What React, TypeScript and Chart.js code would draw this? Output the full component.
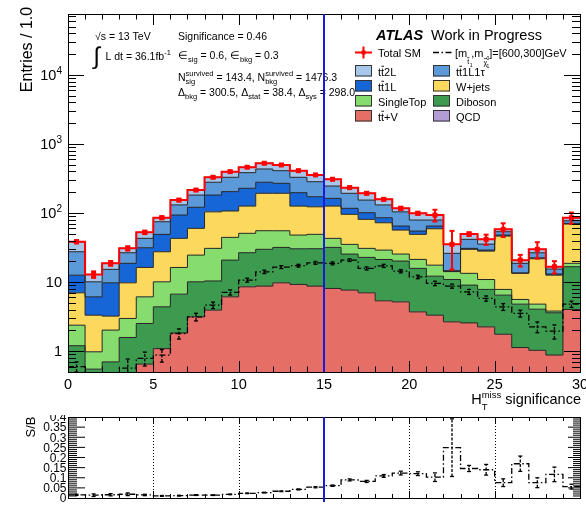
import React, { useEffect, useRef } from "react";
import { Chart, registerables } from "chart.js";

Chart.register(...registerables);

const FONT = '"Liberation Sans", Arial, Helvetica, sans-serif';
const fnt = (size: number, style = "") => `${style} ${size}px ${FONT}`.trim();

// Unit-width bins of H_T^miss significance from 0 to 30
const binEdges = [0, 1, 2, 3, 4, 5, 6, 7, 8, 9, 10, 11, 12, 13, 14, 15, 16, 17, 18, 19, 20, 21, 22, 23, 24, 25, 26, 27, 28, 29, 30];

// Background yields per bin, listed in stacking order (bottom to top)
const ttV = [0.3, 0.15, 0.25, 0.4, 0.65, 1.09, 1.84, 3.14, 3.93, 6.12, 8.55, 8.75, 9.77, 9.26, 8.75, 8.1, 7.66, 7.0, 5.36, 5.18, 3.71, 3.32, 2.66, 2.57, 2.25, 1.76, 1.13, 1.03, 0.88, 4.02];
const diboson = [0.9, 0.4, 0.45, 1.18, 1.87, 3.3, 4.86, 6.96, 6.47, 14.7, 18.1, 21.1, 22.0, 21.1, 21.7, 23.7, 17.8, 15.8, 15.9, 15.0, 12.1, 8.88, 8.24, 6.48, 5.59, 4.72, 3.67, 3.03, 2.72, 12.7];
const singleTop = [1.18, 0.43, 1.32, 1.4, 3.6, 5.71, 9.6, 14.5, 20.4, 23.6, 24.2, 25.6, 23.6, 17.6, 18.7, 11.2, 9.7, 8.0, 7.8, 5.3, 5.5, 5.4, 3.3, 4.35, 3.06, 1.36, 0.81, 0.74, 0.21, 2.0];
const wJets = [4.62, 2.34, 1.2, 6.79, 10.2, 17.4, 26.7, 35.4, 73.2, 62.6, 75.2, 137.6, 137.6, 78, 73.9, 83, 60.6, 50.2, 43.2, 31.2, 27.8, 41.6, 0.2, 16.4, 17.2, 38.6, 7.79, 17.0, 8.8, 50.6];
const tt1L = [5.6, 2.8, 6.55, 8.93, 15.1, 21.6, 50.5, 61, 78, 97, 102, 86, 76, 71, 49, 37, 21.2, 20, 13.2, 8.1, 5.7, 5.6, 0.2, 1.0, 1.0, 1.6, 0.2, 0.7, 0.5, 1.6];
const tt1L1tau = [14.9, 3.98, 5.53, 7.9, 11.6, 25.7, 37.5, 61, 97, 125, 156, 155, 141, 132, 112, 83, 76, 53, 45.5, 39.2, 24.4, 14.4, 11.5, 10.8, 6.4, 5.6, 5.1, 4.1, 2.3, 6.4];
const tt2L = [10.9, 2.8, 3.4, 4.2, 9.5, 10.7, 23, 33, 50, 68, 76, 91, 86, 81, 72, 62, 40, 39, 27, 13, 19.8, 14.3, 9.1, 8.0, 6.1, 4.4, 2.1, 3.2, 1.3, 8.2];
// Uncertainty on the total SM prediction
const totalSMErr = [2.0, 1.4, 1.5, 2.2, 3, 4, 6, 7, 9, 10, 11, 13, 13, 12, 10, 9, 8, 7, 6, 6, 5, 18, 20, 3, 7, 13, 4, 8, 3.4, 16];

// Signal point [m_stop, m_chi] = [600, 300] GeV
const signal = [0.6, 0.18, 0.3, 0.57, 0.79, 0.875, 1.8, 3.14, 4.64, 7.1, 10.7, 14.1, 16.5, 17.3, 19, 18.7, 20.8, 15.8, 17.2, 14.4, 11.9, 9.6, 8.75, 7.23, 5.8, 4.39, 3.52, 2.25, 1.95, 4.8];
const signalErr = [0.1, 0.08, 0.1, 0.2, 0.18, 0.18, 0.3, 0.4, 0.5, 0.6, 0.7, 0.8, 0.8, 0.8, 0.9, 0.9, 0.9, 0.8, 0.9, 0.8, 0.7, 0.7, 0.6, 0.6, 0.5, 0.5, 0.4, 0.4, 0.45, 0.5];

// Axis ticks
const yDecades = [1, 10, 100, 1000, 10000];
const yDecadeExp = ["", "", "2", "3", "4"];
const yDecadeBase = ["1", "10", "10", "10", "10"];
const xLabelValues = [0, 5, 10, 15, 20, 25, 30];
const ratioLabelValues = [0, 0.05, 0.1, 0.15, 0.2, 0.25, 0.3, 0.35, 0.4];
const ratioLabels = ["0", "0.05", "0.1", "0.15", "0.2", "0.25", "0.3", "0.35", "0.4"];
const ratioGridValues = [5, 10, 20, 25];
const cutValue = 15;

const COLORS = {
  ttV: "#e56e66",
  diboson: "#3c9b4f",
  singleTop: "#87dc6e",
  wJets: "#fcd95c",
  tt1L: "#1766d8",
  tt1L1tau: "#5b99d9",
  tt2L: "#a6c7ea",
  qcd: "#b39bd4",
  total: "#ff0000",
  cut: "#1a1adc",
  edge: "#262626",
};

const stack = [
  { key: "ttV", values: ttV, color: COLORS.ttV },
  { key: "diboson", values: diboson, color: COLORS.diboson },
  { key: "singleTop", values: singleTop, color: COLORS.singleTop },
  { key: "wJets", values: wJets, color: COLORS.wJets },
  { key: "tt1L", values: tt1L, color: COLORS.tt1L },
  { key: "tt1L1tau", values: tt1L1tau, color: COLORS.tt1L1tau },
  { key: "tt2L", values: tt2L, color: COLORS.tt2L },
];

const cumulative: number[][] = [];
{
  let run = ttV.map(() => 0);
  for (const s of stack) {
    run = run.map((r, i) => r + s.values[i]);
    cumulative.push(run);
  }
}
const totalSM = cumulative[cumulative.length - 1];
const sOverB = signal.map((s, i) => s / totalSM[i]);
const sOverBErr = signal.map((s, i) => sOverB[i] * Math.sqrt((signalErr[i] / s) ** 2 + (totalSMErr[i] / totalSM[i]) ** 2));

function stepPoints(vals: number[]) {
  const pts = vals.map((v, i) => ({ x: binEdges[i], y: v }));
  pts.push({ x: binEdges[vals.length], y: vals[vals.length - 1] });
  return pts;
}
const binCenter = (i: number) => (binEdges[i] + binEdges[i + 1]) / 2;

// ---------- small drawing helpers ----------
type Seg = { t: string; size: number; dy?: number; style?: string; accent?: "bar" | "tilde"; adv?: number };
type Stack = { sub: Seg; sup: Seg };
type Piece = Seg | Stack;

function segWidth(ctx: CanvasRenderingContext2D, s: Seg) {
  ctx.font = fnt(s.size, s.style);
  return s.adv !== undefined ? s.adv : ctx.measureText(s.t).width;
}
function pieceWidth(ctx: CanvasRenderingContext2D, p: Piece) {
  return "sub" in p ? Math.max(segWidth(ctx, p.sub), segWidth(ctx, p.sup)) : segWidth(ctx, p);
}
function drawSeg(ctx: CanvasRenderingContext2D, s: Seg, x: number, y: number) {
  ctx.font = fnt(s.size, s.style);
  const yy = y + (s.dy || 0);
  ctx.fillText(s.t, x, yy);
  if (s.accent) {
    const w = ctx.measureText(s.t).width;
    const top = yy - s.size * 0.84;
    ctx.save();
    ctx.lineWidth = Math.max(0.8, s.size / 12);
    ctx.strokeStyle = "#000";
    ctx.beginPath();
    const l = x + w * 0.1;
    const r = x + w * 0.95;
    if (s.accent === "bar") {
      ctx.moveTo(l, top);
      ctx.lineTo(r, top);
    } else {
      const m = (l + r) / 2;
      const h = s.size * 0.14;
      ctx.moveTo(l, top + h * 0.5);
      ctx.quadraticCurveTo((l + m) / 2, top - h, m, top);
      ctx.quadraticCurveTo((m + r) / 2, top + h, r, top - h * 0.5);
    }
    ctx.stroke();
    ctx.restore();
  }
}
function drawRich(ctx: CanvasRenderingContext2D, pieces: Piece[], x: number, y: number, align = "left") {
  const widths = pieces.map((p) => pieceWidth(ctx, p));
  const total = widths.reduce((s, w) => s + w, 0);
  let cx = align === "right" ? x - total : align === "center" ? x - total / 2 : x;
  ctx.textAlign = "left";
  ctx.textBaseline = "alphabetic";
  ctx.fillStyle = "#000";
  pieces.forEach((p, i) => {
    if ("sub" in p) {
      drawSeg(ctx, p.sub, cx, y);
      drawSeg(ctx, p.sup, cx, y);
    } else drawSeg(ctx, p, cx, y);
    cx += widths[i];
  });
  return total;
}
function hLine(ctx: CanvasRenderingContext2D, x1: number, x2: number, y: number) {
  ctx.beginPath();
  ctx.moveTo(x1, y);
  ctx.lineTo(x2, y);
  ctx.stroke();
}
function vLine(ctx: CanvasRenderingContext2D, x: number, y1: number, y2: number) {
  ctx.beginPath();
  ctx.moveTo(x, y1);
  ctx.lineTo(x, y2);
  ctx.stroke();
}
const snap = (v: number) => Math.round(v) + 0.5;

const SIGNAL_DASH = [6, 2.5, 1.5, 2.5];

// ---------- main panel decorations ----------
const mainDecor = {
  id: "mainDecor",
  afterDatasetsDraw(chart: any) {
    const { ctx, chartArea: a } = chart;
    const xs = chart.scales.x;
    const ys = chart.scales.y;

    // error bars
    ctx.save();
    ctx.beginPath();
    ctx.rect(a.left, a.top, a.right - a.left, a.bottom - a.top);
    ctx.clip();
    ctx.strokeStyle = "#000";
    ctx.lineWidth = 1.3;
    signal.forEach((v, i) => {
      const cx = xs.getPixelForValue(binCenter(i));
      const hi = ys.getPixelForValue(v + signalErr[i]);
      const lo = ys.getPixelForValue(Math.max(v - signalErr[i], 1e-3));
      ctx.setLineDash([3, 1.5]);
      vLine(ctx, cx, lo, hi);
      ctx.setLineDash([]);
      hLine(ctx, cx - 2, cx + 2, hi);
      hLine(ctx, cx - 2, cx + 2, lo);
    });
    ctx.strokeStyle = COLORS.total;
    ctx.fillStyle = COLORS.total;
    ctx.lineWidth = 2;
    totalSM.forEach((v, i) => {
      const cx = xs.getPixelForValue(binCenter(i));
      const cy = ys.getPixelForValue(v);
      const hi = ys.getPixelForValue(v + totalSMErr[i]);
      const lo = ys.getPixelForValue(Math.max(v - totalSMErr[i], 1e-3));
      vLine(ctx, cx, lo, hi);
      hLine(ctx, cx - 2.5, cx + 2.5, hi);
      hLine(ctx, cx - 2.5, cx + 2.5, lo);
      ctx.fillRect(cx - 2.5, cy - 2.5, 5, 5);
    });
    ctx.restore();

    // frame and ticks
    ctx.save();
    ctx.strokeStyle = "#000";
    ctx.lineWidth = 1;
    ctx.strokeRect(snap(a.left), snap(a.top), Math.round(a.right - a.left), Math.round(a.bottom - a.top));
    for (let d = 0.1; d <= 10000; d *= 10) {
      for (let m = 1; m <= 9; m++) {
        const v = m * d;
        if (v <= ys.min * 1.0001 || v >= ys.max) continue;
        const major = m === 1;
        const len = major ? 16 : 8;
        const py = snap(ys.getPixelForValue(v));
        hLine(ctx, a.left, a.left + len, py);
        hLine(ctx, a.right, a.right - len, py);
      }
    }
    for (let i = 0; i < binEdges.length; i++) {
      const v = binEdges[i];
      const len = v % 5 === 0 ? 11 : 5.5;
      const px = snap(xs.getPixelForValue(v));
      vLine(ctx, px, a.bottom, a.bottom - len);
      vLine(ctx, px, a.top, a.top + len);
    }
    ctx.restore();

    // tick labels
    ctx.save();
    ctx.fillStyle = "#000";
    ctx.textBaseline = "alphabetic";
    yDecades.forEach((v, i) => {
      const py = ys.getPixelForValue(v);
      const pieces: Piece[] = [{ t: yDecadeBase[i], size: 14.5 }];
      if (yDecadeExp[i]) pieces.push({ t: yDecadeExp[i], size: 10, dy: -6.5 });
      drawRich(ctx, pieces, 62, py + 5.2, "right");
    });
    xLabelValues.forEach((v) => {
      const px = xs.getPixelForValue(v);
      drawRich(ctx, [{ t: String(v), size: 14.5 }], px, 388.5, "center");
    });
    // axis titles
    drawRich(
      ctx,
      [
        { t: "H", size: 14.5 },
        { sub: { t: "T", size: 9.5, dy: 6 }, sup: { t: "miss", size: 9.5, dy: -6.5 } },
        { t: " significance", size: 14.5 },
      ],
      581,
      404,
      "right"
    );
    ctx.save();
    ctx.translate(32, 49.5);
    ctx.rotate(-Math.PI / 2);
    drawRich(ctx, [{ t: "Entries / 1.0", size: 16 }], 0, 0, "center");
    ctx.restore();

    // analysis annotations
    const A = 10.5;
    const S = 7.5;
    drawRich(ctx, [{ t: "\u221As = 13 TeV", size: A }], 95, 39.5);
    drawRich(ctx, [{ t: "\u222B", size: 24, dy: 0 }], 93.5, 64);
    drawRich(ctx, [{ t: "L dt = 36.1fb", size: A }, { t: "-1", size: S, dy: -4.5 }], 105.5, 59.5);
    drawRich(ctx, [{ t: "Significance = 0.46", size: A }], 178, 39.5);
    drawRich(
      ctx,
      [
        { t: "\u2208", size: A },
        { t: "sig", size: S, dy: 3 },
        { t: " = 0.6, \u2208", size: A },
        { t: "bkg", size: S, dy: 3 },
        { t: " = 0.3", size: A },
      ],
      178,
      58.5
    );
    drawRich(
      ctx,
      [
        { t: "N", size: A },
        { sub: { t: "sig", size: S, dy: 3.5 }, sup: { t: "survived", size: S, dy: -5 } },
        { t: " = 143.4, N", size: A },
        { sub: { t: "bkg", size: S, dy: 3.5 }, sup: { t: "survived", size: S, dy: -5 } },
        { t: " = 1476.3", size: A },
      ],
      178,
      80.5
    );
    drawRich(
      ctx,
      [
        { t: "\u0394", size: A },
        { t: "bkg", size: S, dy: 3 },
        { t: " = 300.5, \u0394", size: A },
        { t: "stat", size: S, dy: 3 },
        { t: " = 38.4, \u0394", size: A },
        { t: "sys", size: S, dy: 3 },
        { t: " = 298.0", size: A },
      ],
      178,
      96
    );

    // experiment label
    drawRich(ctx, [{ t: "ATLAS", size: 14.5, style: "italic bold" }], 376, 40);
    drawRich(ctx, [{ t: "Work in Progress", size: 14.5 }], 431, 40);

    // legend
    const L = 11;
    const c1 = 355;
    const c2 = 433;
    const boxW = 17;
    const boxH = 11.5;
    const row1 = 52.5;
    // Total SM marker
    ctx.strokeStyle = COLORS.total;
    ctx.fillStyle = COLORS.total;
    ctx.lineWidth = 2;
    hLine(ctx, c1, c1 + boxW, row1);
    vLine(ctx, c1 + boxW / 2, row1 - 6, row1 + 6);
    ctx.fillRect(c1 + boxW / 2 - 2, row1 - 2, 4, 4);
    drawRich(ctx, [{ t: "Total SM", size: L }], 378, row1 + 4);
    // signal line
    ctx.strokeStyle = "#000";
    ctx.lineWidth = 1.3;
    ctx.setLineDash(SIGNAL_DASH);
    hLine(ctx, c2, c2 + 20, row1);
    ctx.setLineDash([]);
    drawRich(
      ctx,
      [
        { t: "[m", size: L },
        { t: "t", size: 7, dy: 7, accent: "tilde", adv: 2.5 },
        { t: "1", size: 5, dy: 10, adv: 1.5 },
        { t: ",m", size: L },
        { t: "\u03C7", size: 7, dy: 8, accent: "tilde", adv: 3 },
        { sub: { t: "1", size: 5, dy: 11 }, sup: { t: "0", size: 5, dy: 3 } },
        { t: "]=[600,300]GeV", size: L },
      ],
      455,
      row1 + 4
    );

    const tt = (rest: string): Piece[] => [
      { t: "t", size: L },
      { t: "t", size: L, accent: "bar" },
      { t: rest, size: L },
    ];
    const rows: { color: string; label: Piece[] }[][] = [
      [
        { color: COLORS.tt2L, label: tt("2L") },
        { color: COLORS.tt1L1tau, label: tt("1L1\u03C4") },
      ],
      [
        { color: COLORS.tt1L, label: tt("1L") },
        { color: COLORS.wJets, label: [{ t: "W+jets", size: L }] },
      ],
      [
        { color: COLORS.singleTop, label: [{ t: "SingleTop", size: L }] },
        { color: COLORS.diboson, label: [{ t: "Diboson", size: L }] },
      ],
      [
        { color: COLORS.ttV, label: tt("+V") },
        { color: COLORS.qcd, label: [{ t: "QCD", size: L }] },
      ],
    ];
    rows.forEach((row, r) => {
      const top = 65 + r * 15;
      row.forEach((entry, c) => {
        const bx = c === 0 ? c1 : c2;
        ctx.fillStyle = entry.color;
        ctx.fillRect(bx, top, boxW, boxH);
        ctx.strokeStyle = "#333";
        ctx.lineWidth = 1;
        ctx.strokeRect(bx + 0.5, top + 0.5, boxW - 1, boxH - 1);
        drawRich(ctx, entry.label, bx + 23, top + 10.5);
      });
    });

    // cut line
    ctx.strokeStyle = COLORS.cut;
    ctx.lineWidth = 2;
    const cx = xs.getPixelForValue(cutValue);
    vLine(ctx, cx, a.top, a.bottom);
    ctx.restore();
  },
};

// ---------- ratio panel decorations ----------
const ratioDecor = {
  id: "ratioDecor",
  beforeDatasetsDraw(chart: any) {
    const { ctx, chartArea: a } = chart;
    const xs = chart.scales.x;
    ctx.save();
    ctx.strokeStyle = "#000";
    ctx.lineWidth = 1;
    ctx.setLineDash([1, 2]);
    ratioGridValues.forEach((v) => vLine(ctx, snap(xs.getPixelForValue(v)), a.top, a.bottom));
    ctx.restore();
  },
  afterDatasetsDraw(chart: any) {
    const { ctx, chartArea: a } = chart;
    const xs = chart.scales.x;
    const ys = chart.scales.y;
    ctx.save();
    ctx.beginPath();
    ctx.rect(a.left, a.top, a.right - a.left, a.bottom - a.top);
    ctx.clip();
    ctx.strokeStyle = "#000";
    ctx.lineWidth = 1.3;
    sOverB.forEach((v, i) => {
      const cx = xs.getPixelForValue(binCenter(i));
      const hi = ys.getPixelForValue(v + sOverBErr[i]);
      const lo = ys.getPixelForValue(Math.max(v - sOverBErr[i], 0));
      ctx.setLineDash([3, 1.5]);
      vLine(ctx, cx, lo, hi);
      ctx.setLineDash([]);
      hLine(ctx, cx - 2, cx + 2, hi);
      hLine(ctx, cx - 2, cx + 2, lo);
    });
    ctx.restore();

    ctx.save();
    ctx.strokeStyle = "#000";
    ctx.lineWidth = 1;
    ctx.strokeRect(snap(a.left), snap(a.top), Math.round(a.right - a.left), Math.round(a.bottom - a.top));
    for (let k = 1; k < 40; k++) {
      const v = k / 100;
      const major = k % 5 === 0;
      const py = ys.getPixelForValue(v);
      hLine(ctx, a.left, a.left + (major ? 17 : 9), py);
      hLine(ctx, a.right, a.right - (major ? 12 : 7), py);
    }
    for (let i = 0; i < binEdges.length; i++) {
      const v = binEdges[i];
      const len = v % 5 === 0 ? 7 : 4;
      const px = snap(xs.getPixelForValue(v));
      vLine(ctx, px, a.bottom, a.bottom - len);
      vLine(ctx, px, a.top, a.top + len);
    }
    ctx.fillStyle = "#000";
    ratioLabelValues.forEach((v, i) => {
      drawRich(ctx, [{ t: ratioLabels[i], size: 12 }], 66.5, ys.getPixelForValue(v) + 4.3, "right");
    });
    ctx.save();
    ctx.translate(34.5, 427 - 415);
    ctx.rotate(-Math.PI / 2);
    drawRich(ctx, [{ t: "S/B", size: 13 }], 0, 0, "center");
    ctx.restore();

    ctx.strokeStyle = COLORS.cut;
    ctx.lineWidth = 2;
    vLine(ctx, xs.getPixelForValue(cutValue), a.top, a.bottom + 4);
    ctx.restore();
  },
};

function buildMain(canvas: HTMLCanvasElement) {
  // Chart.js paints lower "order" values last, so the total and signal outlines sit on top
  const bandSets = stack.map((s, k) => ({
    label: s.key,
    data: stepPoints(cumulative[k]),
    stepped: "before",
    borderColor: COLORS.edge,
    borderWidth: 1,
    backgroundColor: s.color,
    fill: k === 0 ? "start" : "-1",
    pointRadius: 0,
    order: 10 + k,
  }));
  return new Chart(canvas, {
    type: "line",
    data: {
      datasets: [
        ...bandSets,
        {
          label: "Total SM",
          data: stepPoints(totalSM),
          stepped: "before",
          borderColor: COLORS.total,
          borderWidth: 2,
          fill: false,
          pointRadius: 0,
          order: 1,
        },
        {
          label: "signal",
          data: stepPoints(signal),
          stepped: "before",
          borderColor: "#000",
          borderWidth: 1.3,
          borderDash: SIGNAL_DASH,
          fill: false,
          pointRadius: 0,
          order: 2,
        },
      ],
    } as any,
    options: {
      animation: false,
      responsive: false,
      maintainAspectRatio: false,
      events: [],
      layout: { padding: { left: 68, right: 20, top: 14, bottom: 42 } },
      scales: {
        x: { type: "linear", min: 0, max: 30, display: false },
        y: { type: "logarithmic", min: 0.5, max: 76000, display: false },
      },
      plugins: {
        legend: { display: false },
        tooltip: { enabled: false },
        filler: { drawTime: "beforeDatasetsDraw" },
      },
    } as any,
    plugins: [mainDecor],
  });
}

function buildRatio(canvas: HTMLCanvasElement) {
  return new Chart(canvas, {
    type: "line",
    data: {
      datasets: [
        {
          label: "S/B",
          data: stepPoints(sOverB),
          stepped: "before",
          borderColor: "#000",
          borderWidth: 1.3,
          borderDash: SIGNAL_DASH,
          fill: false,
          pointRadius: 0,
        },
      ],
    } as any,
    options: {
      animation: false,
      responsive: false,
      maintainAspectRatio: false,
      events: [],
      layout: { padding: { left: 68, right: 20, top: 2, bottom: 11 } },
      scales: {
        x: { type: "linear", min: 0, max: 30, display: false },
        y: { type: "linear", min: 0, max: 0.4, display: false },
      },
      plugins: { legend: { display: false }, tooltip: { enabled: false } },
    } as any,
    plugins: [ratioDecor],
  });
}

export default function App() {
  const mainRef = useRef<HTMLCanvasElement>(null);
  const ratioRef = useRef<HTMLCanvasElement>(null);
  useEffect(() => {
    const charts = [buildMain(mainRef.current!), buildRatio(ratioRef.current!)];
    return () => charts.forEach((c) => c.destroy());
  }, []);
  return (
    <div
      style={{ position: "fixed", left: 0, top: 0, width: 586, height: 509, overflow: "hidden", background: "#fff" }}
    >
      <canvas
        ref={mainRef}
        width={600}
        height={414}
        style={{ position: "absolute", left: 0, top: 0, width: 600, height: 414 }}
      />
      <canvas
        ref={ratioRef}
        width={600}
        height={94}
        style={{ position: "absolute", left: 0, top: 415, width: 600, height: 94 }}
      />
    </div>
  );
}
